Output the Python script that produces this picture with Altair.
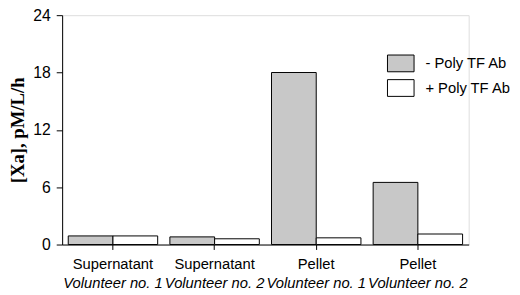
import altair as alt
import pandas as pd

line1 = ["Supernatant", "Supernatant", "Pellet", "Pellet"]
line2 = ["Volunteer no. 1", "Volunteer no. 2", "Volunteer no. 1", "Volunteer no. 2"]
series = ["- Poly TF Ab", "+ Poly TF Ab"]
minus_ab = [0.9, 0.8, 18.0, 6.5]
plus_ab = [0.9, 0.6, 0.7, 1.1]
y_ticks = [0, 6, 12, 18, 24]

keys = [f"{a}|{b}" for a, b in zip(line1, line2)]
rows = []
for k, a, b, v1, v2 in zip(keys, line1, line2, minus_ab, plus_ab):
    rows.append({"group": k, "line1": a, "line2": b, "series": series[0], "value": v1})
    rows.append({"group": k, "line1": a, "line2": b, "series": series[1], "value": v2})
df = pd.DataFrame(rows)
labels_df = pd.DataFrame({"group": keys, "line2": line2})

W, H = 413, 233

x_enc = alt.X(
    "group:N",
    sort=keys,
    scale=alt.Scale(paddingInner=0.12, paddingOuter=0.06),
    axis=alt.Axis(
        title=None,
        labelExpr="split(datum.label, '|')[0]",
        labelAngle=0,
        labelFont="Arial",
        labelFontSize=15,
        labelColor="black",
        labelPadding=7,
        tickSize=5,
        tickColor="black",
        domainColor="black",
        grid=False,
    ),
)

bars = alt.Chart(df).mark_bar(stroke="black", strokeWidth=1).encode(
    x=x_enc,
    xOffset=alt.XOffset("series:N", sort=series, scale=alt.Scale(paddingInner=0, paddingOuter=0)),
    y=alt.Y(
        "value:Q",
        scale=alt.Scale(domain=[0, 24], nice=False),
        axis=alt.Axis(
            title="[Xa], pM/L/h",
            titleFont="Liberation Serif",
            titleFontWeight="bold",
            titleFontSize=19,
            titleColor="black",
            titlePadding=5,
            values=y_ticks,
            labelFont="Arial",
            labelFontSize=16,
            labelColor="black",
            labelPadding=6,
            tickSize=6,
            tickColor="black",
            domainColor="black",
            grid=False,
        ),
    ),
    fill=alt.Fill(
        "series:N",
        sort=series,
        scale=alt.Scale(domain=series, range=["#c8c8c8", "#ffffff"]),
        legend=alt.Legend(
            title=None,
            orient="none",
            legendX=330,
            legendY=35,
            padding=0,
            symbolType="M-1,-0.63H1V0.63H-1Z",
            symbolSize=729,
            symbolStrokeColor="black",
            symbolStrokeWidth=1,
            symbolOpacity=1,
            labelFont="Arial",
            labelFontSize=15,
            labelColor="black",
            labelOffset=11,
            rowPadding=-6,
        ),
    ),
)

sub = alt.Chart(labels_df).mark_text(
    font="Arial", fontSize=15, fontStyle="italic", color="black", baseline="alphabetic"
).encode(
    x=x_enc,
    y=alt.value(H + 44),
    text="line2:N",
)

chart = alt.layer(bars, sub).properties(
    width=W,
    height=H,
    autosize=alt.AutoSizeParams(type="none"),
    padding={"left": 55, "top": 5, "right": 44, "bottom": 49},
).configure_view(stroke=None).configure(background="white")

chart.save("out.html", embed_options={"renderer": "svg", "actions": False})
